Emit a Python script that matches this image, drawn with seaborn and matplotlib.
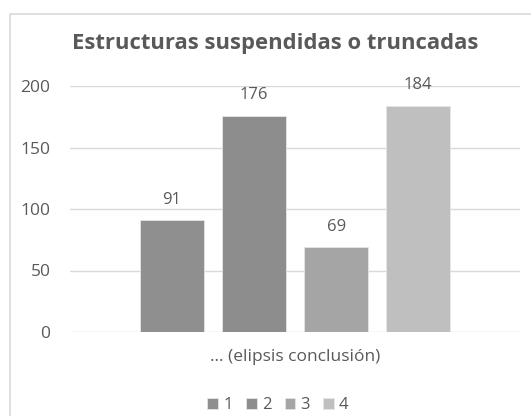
import matplotlib
matplotlib.use('Agg')

import pandas as pd
import matplotlib.pyplot as plt
import seaborn as sns
from matplotlib.patches import Rectangle

# -------------------------------
# DATA
# -------------------------------

category = "... (elipsis conclusión)"
series = ["1", "2", "3", "4"]
values = [91, 176, 69, 184]
colors = ["#8f8f8f", "#8d8d8d", "#a5a5a5", "#bfbfbf"]
yticks = [0, 50, 100, 150, 200]

df = pd.DataFrame({
    "cat": [category] * len(series),
    "serie": series,
    "valor": values
})

# -------------------------------
# STYLE
# -------------------------------

sns.set_style("white")
plt.rcParams['font.family'] = ['Open Sans', 'DejaVu Sans']
text_color = "#595959"

fig = plt.figure(figsize=(5.31, 4.16), dpi=100)
ax = fig.add_axes([70 / 531, 84 / 416, 450 / 531, 246 / 416])

sns.barplot(
    data=df,
    x="cat",
    y="valor",
    hue="serie",
    palette=colors,
    width=0.73,
    gap=0.22,
    edgecolor="#e6e6e6",
    linewidth=0.6,
    ax=ax
)

ax.set_ylim(0, 200)
ax.set_xlim(-0.5, 0.5)
ax.set_yticks(yticks)
ax.yaxis.grid(True, color="#d9d9d9", linewidth=1)
ax.set_axisbelow(True)
for s in ax.spines.values():
    s.set_visible(False)

ax.tick_params(axis='y', length=0, pad=14, labelsize=12.5, labelcolor=text_color)
ax.tick_params(axis='x', length=0, labelbottom=False)
ax.set_ylabel("")
ax.set_xlabel(category, fontsize=12.5, color=text_color, labelpad=12)

for cont in ax.containers:
    ax.bar_label(cont, padding=9, fontsize=12, color=text_color, clip_on=False)

fig.text(275 / 531, 1 - 43 / 416, "Estructuras suspendidas o truncadas",
         ha="center", va="center", fontsize=15.8, fontweight="bold", color=text_color)

sns.move_legend(
    ax, "center",
    bbox_to_anchor=(278 / 531, 11 / 416),
    bbox_transform=fig.transFigure,
    ncol=4, frameon=False, title=None,
    fontsize=12, handlelength=0.65, handleheight=0.65,
    handletextpad=0.3, columnspacing=0.8
)
for t in ax.get_legend().get_texts():
    t.set_color(text_color)

# chart border
fig.patches.append(Rectangle((10 / 531, -0.05), 1.0, 1 - 14 / 416 + 0.05,
                             transform=fig.transFigure, fill=False,
                             edgecolor="#d9d9d9", linewidth=1.2, clip_on=False))

fig.savefig("out.png", dpi=100)
